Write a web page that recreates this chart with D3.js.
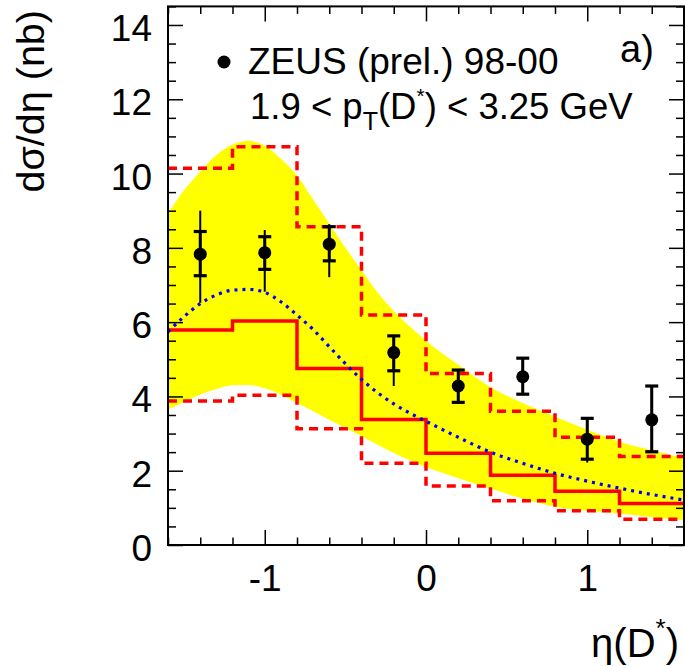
<!DOCTYPE html>
<html>
<head>
<meta charset="utf-8">
<script src="https://cdn.jsdelivr.net/npm/d3@7"></script>
<style>
html,body{margin:0;padding:0;background:#fff;}
svg{display:block;}
text{font-family:"Liberation Sans",Arial,Helvetica,sans-serif;fill:#000;}
</style>
</head>
<body>
<svg id="chart" width="685" height="666"></svg>
<script>
// ---- data ----
const binEdges = [-1.6, -1.2, -0.8, -0.4, 0.0, 0.4, 0.8, 1.2, 1.6];
const nloCentral = [5.79, 6.03, 4.75, 3.38, 2.47, 1.88, 1.45, 1.12];
const nloUpper   = [10.14, 10.72, 8.57, 6.19, 4.62, 3.60, 2.90, 2.38];
const nloLower   = [3.88, 4.03, 3.13, 2.20, 1.59, 1.19, 0.92, 0.69];

const bandEta   = [-1.6, -1.5, -1.4, -1.3, -1.2, -1.1, -1.0, -0.9, -0.8, -0.7, -0.6, -0.5, -0.4, -0.3, -0.2, -0.1, 0.0, 0.2, 0.4, 0.6, 0.8, 1.0, 1.2, 1.4, 1.6];
const bandUpper = [8.93, 9.56, 10.05, 10.5, 10.78, 10.88, 10.75, 10.4, 9.95, 9.3, 8.65, 8.0, 7.4, 6.8, 6.3, 5.88, 5.5, 4.85, 4.25, 3.82, 3.45, 3.1, 2.78, 2.55, 2.33];
const bandLower = [3.65, 3.85, 4.05, 4.2, 4.3, 4.31, 4.22, 4.05, 3.82, 3.6, 3.37, 3.15, 2.93, 2.7, 2.48, 2.28, 2.1, 1.8, 1.52, 1.25, 1.03, 0.92, 0.85, 0.75, 0.67];
const blueCurve = [5.74, 6.15, 6.5, 6.73, 6.86, 6.88, 6.8, 6.55, 6.19, 5.8, 5.34, 4.88, 4.46, 4.1, 3.8, 3.55, 3.33, 2.9, 2.5, 2.2, 1.93, 1.72, 1.53, 1.36, 1.21];

const dataEta    = [-1.4, -1.0, -0.6, -0.2, 0.2, 0.6, 1.0, 1.4];
const dataVal    = [7.83, 7.87, 8.10, 5.18, 4.28, 4.53, 2.85, 3.37];
const dataStatHi = [8.44, 8.30, 8.57, 5.63, 4.71, 5.03, 3.41, 4.28];
const dataStatLo = [7.25, 7.42, 7.65, 4.69, 3.84, 4.06, 2.31, 2.51];
const dataTotHi  = [9.00, 8.48, 8.64, 5.63, 4.71, 5.03, 3.41, 4.28];
const dataTotLo  = [6.52, 6.82, 7.21, 4.28, 3.84, 4.06, 2.22, 2.51];

const xMajorTicks = [-1, 0, 1];
const xTickLabels = ["-1", "0", "1"];
const yMajorTicks = [0, 2, 4, 6, 8, 10, 12, 14];
const yTickLabels = ["0", "2", "4", "6", "8", "10", "12", "14"];
const xDomain = [-1.6, 1.6];
const yDomain = [0, 14.5];

// ---- layout ----
const svg = d3.select("#chart");
const L = 168, R = 684, T = 6.4, B = 545;
const x = d3.scaleLinear().domain(xDomain).range([L, R]);
const y = d3.scaleLinear().domain(yDomain).range([B, T]);

svg.append("defs").append("clipPath").attr("id", "clip")
  .append("rect").attr("x", L).attr("y", T).attr("width", R - L).attr("height", B - T);

const plot = svg.append("g").attr("clip-path", "url(#clip)");

// yellow band
const bandData = bandEta.map((e, i) => ({e, hi: bandUpper[i], lo: bandLower[i]}));
plot.append("path")
  .datum(bandData)
  .attr("fill", "#ffff00")
  .attr("stroke", "none")
  .attr("d", d3.area().x(d => x(d.e)).y0(d => y(d.lo)).y1(d => y(d.hi)).curve(d3.curveMonotoneX));

// histograms
function stepPts(vals) {
  const pts = [];
  vals.forEach((v, i) => { pts.push([binEdges[i], v]); pts.push([binEdges[i + 1], v]); });
  return pts;
}
const line = d3.line().x(d => x(d[0])).y(d => y(d[1]));
[nloUpper, nloLower].forEach(vals => {
  plot.append("path").datum(stepPts(vals))
    .attr("fill", "none").attr("stroke", "#ff0000").attr("stroke-width", 3.5)
    .attr("stroke-dasharray", "9 6").attr("d", line);
});
plot.append("path").datum(stepPts(nloCentral))
  .attr("fill", "none").attr("stroke", "#ff0000").attr("stroke-width", 3.5)
  .attr("d", line);

// blue dotted curve
plot.append("path")
  .datum(bandEta.map((e, i) => [e, blueCurve[i]]))
  .attr("fill", "none").attr("stroke", "#0000ff").attr("stroke-width", 3.2)
  .attr("stroke-dasharray", "3 5")
  .attr("d", d3.line().x(d => x(d[0])).y(d => y(d[1])).curve(d3.curveMonotoneX));

// data points
const pts = dataEta.map((e, i) => ({e, v: dataVal[i], sh: dataStatHi[i], sl: dataStatLo[i], th: dataTotHi[i], tl: dataTotLo[i]}));
const dg = svg.append("g");
dg.selectAll("line.tot").data(pts).join("line")
  .attr("x1", d => x(d.e)).attr("x2", d => x(d.e))
  .attr("y1", d => y(d.th)).attr("y2", d => y(d.tl))
  .attr("stroke", "#000").attr("stroke-width", 2);
dg.selectAll("line.stat").data(pts).join("line")
  .attr("x1", d => x(d.e)).attr("x2", d => x(d.e))
  .attr("y1", d => y(d.sh)).attr("y2", d => y(d.sl))
  .attr("stroke", "#000").attr("stroke-width", 3);
["sh", "sl"].forEach(k => {
  dg.selectAll("line.cap" + k).data(pts).join("line")
    .attr("x1", d => x(d.e) - 6.5).attr("x2", d => x(d.e) + 6.5)
    .attr("y1", d => y(d[k])).attr("y2", d => y(d[k]))
    .attr("stroke", "#000").attr("stroke-width", 3.2);
});
dg.selectAll("circle").data(pts).join("circle")
  .attr("cx", d => x(d.e)).attr("cy", d => y(d.v)).attr("r", 6.5).attr("fill", "#000");

// ---- axes ----
const ax = svg.append("g");
const xMinor = d3.range(-16, 17, 2).map(v => v / 10).filter(v => !xMajorTicks.some(m => Math.abs(m - v) < 1e-9));
const yMinor = d3.range(0, 14.51, 0.5).filter(v => !yMajorTicks.some(m => Math.abs(m - v) < 1e-9));

function tickStyle(g) {
  g.select(".domain").remove();
  g.selectAll(".tick line").attr("stroke", "#000").attr("stroke-width", 1.5);
}
// bottom
ax.append("g").attr("transform", `translate(0,${B})`)
  .call(d3.axisBottom(x).tickValues(xMajorTicks).tickSize(-15).tickPadding(20)
    .tickFormat((d, i) => xTickLabels[i]))
  .call(tickStyle)
  .call(g => g.selectAll("text").attr("font-size", 37).attr("font-family", "Liberation Sans, Arial, sans-serif"));
ax.append("g").attr("transform", `translate(0,${B})`)
  .call(d3.axisBottom(x).tickValues(xMinor).tickSize(-7.5).tickFormat(""))
  .call(tickStyle);
// top
ax.append("g").attr("transform", `translate(0,${T})`)
  .call(d3.axisTop(x).tickValues(xMajorTicks).tickSize(-15).tickFormat(""))
  .call(tickStyle);
ax.append("g").attr("transform", `translate(0,${T})`)
  .call(d3.axisTop(x).tickValues(xMinor).tickSize(-7.5).tickFormat(""))
  .call(tickStyle);
// left
ax.append("g").attr("transform", `translate(${L},0)`)
  .call(d3.axisLeft(y).tickValues(yMajorTicks).tickSize(-15).tickPadding(16)
    .tickFormat((d, i) => yTickLabels[i]))
  .call(tickStyle)
  .call(g => g.selectAll("text").attr("font-size", 37).attr("dy", "0.42em").attr("font-family", "Liberation Sans, Arial, sans-serif"));
ax.append("g").attr("transform", `translate(${L},0)`)
  .call(d3.axisLeft(y).tickValues(yMinor).tickSize(-8).tickFormat(""))
  .call(tickStyle);
// right
ax.append("g").attr("transform", `translate(${R},0)`)
  .call(d3.axisRight(y).tickValues(yMajorTicks).tickSize(-15).tickFormat(""))
  .call(tickStyle);
ax.append("g").attr("transform", `translate(${R},0)`)
  .call(d3.axisRight(y).tickValues(yMinor).tickSize(-8).tickFormat(""))
  .call(tickStyle);

// frame
svg.append("rect").attr("x", L).attr("y", T).attr("width", R - L).attr("height", B - T)
  .attr("fill", "none").attr("stroke", "#000").attr("stroke-width", 2);

// ---- titles ----
svg.append("text")
  .attr("transform", "translate(44,10) rotate(-90)")
  .attr("text-anchor", "end").attr("font-size", 39.5)
  .text("dσ/dη (nb)");

const xt = svg.append("text").attr("x", 679).attr("y", 657).attr("text-anchor", "end").attr("font-size", 40);
xt.append("tspan").text("η(D");
xt.append("tspan").attr("font-size", 26).attr("dy", -20).text("*");
xt.append("tspan").attr("dy", 20).text(")");

// legend
svg.append("circle").attr("cx", 224).attr("cy", 62).attr("r", 6.5).attr("fill", "#000");
svg.append("text").attr("x", 248).attr("y", 73.5).attr("font-size", 37).text("ZEUS (prel.) 98-00");
const lt = svg.append("text").attr("x", 250).attr("y", 118.5).attr("font-size", 36.5);
lt.append("tspan").text("1.9 < p");
lt.append("tspan").attr("font-size", 25).attr("dy", 11).text("T");
lt.append("tspan").attr("dy", -11).text("(D");
lt.append("tspan").attr("font-size", 21).attr("dy", -16).text("*");
lt.append("tspan").attr("dy", 16).text(") < 3.25 GeV");

svg.append("text").attr("x", 620).attr("y", 62).attr("font-size", 38).text("a)");
</script>
</body>
</html>
